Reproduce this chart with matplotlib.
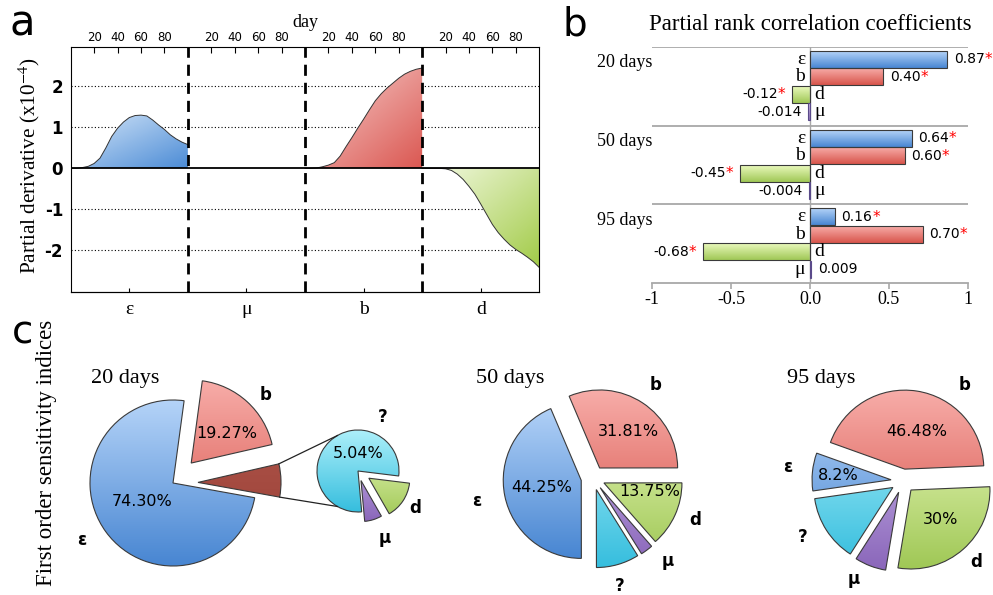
"""
Sensitivity analysis figure: partial derivatives, PRCC and first order indices
"""

import numpy as np
import matplotlib
matplotlib.use('agg')

import matplotlib.pyplot as plt
from matplotlib.colors import LinearSegmentedColormap

plt.rcParams['mathtext.fontset'] = 'stix'
SERIF = ['Liberation Serif', 'DejaVu Serif']
SANS = ['DejaVu Sans']

# ------------- data: panel a (partial derivative, x1e-4) -------------
days = [0, 5, 10, 15, 20, 25, 30, 35, 40, 45, 50,
        55, 60, 65, 70, 75, 80, 85, 90, 95, 100]
deriv_eps = [0, 0, 0.02, 0.05, 0.12, 0.25, 0.5, 0.78, 0.98, 1.13, 1.24,
             1.29, 1.3, 1.28, 1.18, 1.06, 0.95, 0.82, 0.72, 0.64, 0.58]
deriv_mu = [0] * 21
deriv_b = [0, 0, 0.01, 0.04, 0.08, 0.14, 0.3, 0.53, 0.75, 0.98, 1.2,
           1.43, 1.65, 1.82, 1.96, 2.08, 2.2, 2.3, 2.37, 2.42, 2.45]
deriv_d = [0, 0, 0, 0, -0.01, -0.05, -0.14, -0.27, -0.44, -0.63, -0.87,
           -1.12, -1.37, -1.57, -1.73, -1.87, -1.98, -2.07, -2.17, -2.28, -2.42]
params_a = ['ε', 'μ', 'b', 'd']

# ------------- data: panel b (PRCC) -------------
prcc_times = ['20 days', '50 days', '95 days']
prcc_params = ['ε', 'b', 'd', 'μ']
prcc_20 = [0.87, 0.465, -0.114, -0.014]
prcc_50 = [0.645, 0.60, -0.443, -0.004]
prcc_95 = [0.16, 0.715, -0.677, 0.009]
prcc_text_20 = ['0.87', '0.40', '-0.12', '-0.014']
prcc_text_50 = ['0.64', '0.60', '-0.45', '-0.004']
prcc_text_95 = ['0.16', '0.70', '-0.68', '0.009']
prcc_signif = [True, True, True, False]

# ------------- data: panel c (first order indices, %) -------------
si20_labels = ['ε', 'rest', 'b']
si20_values = [74.30, 6.43, 19.27]
si20_small_labels = ['?', 'μ', 'd']
si20_small_values = [5.04, 0.44, 0.95]
si50_labels = ['ε', '?', 'μ', 'd', 'b']
si50_values = [44.25, 9.0, 2.6, 13.75, 31.81]
si95_labels = ['b', 'ε', '?', 'μ', 'd']
si95_values = [46.48, 8.2, 14.5, 6.8, 30.0]

# gradient colours (top/light, bottom/dark)
pie_colors = {
    'ε': ('#b4d3f8', '#4886d2'),
    'b': ('#f7aca8', '#d8554c'),
    'd': ('#eaf9bd', '#a0c856'),
    'μ': ('#cdbaec', '#8a66ba'),
    '?': ('#aceffa', '#36bede'),
    'rest': ('#b0564c', '#9a4036'),
}
area_colors = {
    'ε': ('#d6e7f9', '#4c8cd6'),
    'b': ('#f7d3d1', '#db5852'),
    'd': ('#f3f9e2', '#a2cb48'),
}


def gradient(ax, clip, extent, c1, c2, diagonal=False):
    cmap = LinearSegmentedColormap.from_list('g', [c1, c2])
    yy, xx = np.mgrid[0:1:64j, 0:1:64j]
    g = (xx + yy) / 2 if diagonal else yy
    im = ax.imshow(g, cmap=cmap, extent=extent, aspect='auto', origin='upper',
                   zorder=1, interpolation='bilinear', vmin=0, vmax=1)
    if isinstance(clip, tuple):
        im.set_clip_path(*clip)
    else:
        im.set_clip_path(clip)
    return im


fig = plt.figure(figsize=(9.93, 5.95), dpi=100)

# ----------- panel a -----------------------
ax_a = fig.add_axes([70.7 / 993, 1 - 291.7 / 595, 468.6 / 993, 245 / 595])
x = np.array(days)
for k, (name, vals) in enumerate(zip(params_a, [deriv_eps, deriv_mu, deriv_b, deriv_d])):
    xs = x + 100 * k
    v = np.array(vals, dtype=float)
    if name in area_colors:
        poly = ax_a.fill_between(xs, 0, v, facecolor='none', edgecolor='none')
        lo, hi = min(v.min(), 0), max(v.max(), 0)
        gradient(ax_a, (poly.get_paths()[0], ax_a.transData),
                 (xs[0], xs[-1], lo, hi), *area_colors[name], diagonal=True)
        ax_a.plot(xs, v, color='#333333', lw=0.7, zorder=3)

for yv in (-2, -1, 1, 2):
    ax_a.axhline(yv, color='k', ls=(0, (1, 2)), lw=0.8, zorder=0.5)
ax_a.axhline(0, color='k', lw=1.3, zorder=4)
for xv in (100, 200, 300):
    ax_a.axvline(xv, color='k', ls=(0, (4, 2.5)), lw=2, zorder=5)

ax_a.set_xlim(0, 400)
ax_a.set_ylim(-3.01, 2.97)
ax_a.set_xticks([100 * k + d for k in range(4) for d in (20, 40, 60, 80)],
                ['20', '40', '60', '80'] * 4, fontfamily=SANS, fontsize=8.5)
ax_a.xaxis.tick_top()
ax_a.xaxis.set_label_position('top')
ax_a.set_xlabel('day', family=SERIF, fontsize=13, labelpad=3)
ax_a.tick_params(axis='x', direction='in', length=4, pad=2)
ax_a.set_yticks([-2, -1, 0, 1, 2], ['-2', '-1', '0', '1', '2'],
                fontweight='bold', fontsize=12)
ax_a.tick_params(axis='y', length=0, pad=5.5)

sec = ax_a.secondary_xaxis('bottom')
sec.set_xticks([50, 150, 250, 350], params_a, fontfamily=SERIF, fontsize=14)
sec.tick_params(direction='in', length=3, pad=7)

fig.text(29 / 993, 1 - 166 / 595, 'Partial derivative (x10$^{-4}$)', rotation=90,
         ha='center', va='center', family=SERIF, fontsize=15.3)

# ----------- panel b -----------------------
ax_b = fig.add_axes([652 / 993, 1 - 283 / 595, 316 / 993, 236 / 595])
series = [prcc_20, prcc_50, prcc_95]
texts = [prcc_text_20, prcc_text_50, prcc_text_95]
for g in range(3):
    for i, p in enumerate(prcc_params):
        yc = 4 * g + 0.63 + 0.89 * i
        v = series[g][i]
        ec = '#5a4a8a' if p == 'μ' else '#3a3a3a'
        rect = ax_b.barh(yc, v, height=0.86, color='none', edgecolor=ec,
                         lw=0.8, zorder=2)[0]
        gradient(ax_b, rect, (min(0, v), max(0, v), yc + 0.43, yc - 0.43),
                 *pie_colors[p])
        if v >= 0:
            ax_b.text(-0.03, yc, p, ha='right', va='center', family=SERIF, fontsize=14)
            t = ax_b.text(v + 0.04, yc, texts[g][i], ha='left', va='center', fontsize=10)
        else:
            ax_b.text(0.03, yc, p, ha='left', va='center', family=SERIF, fontsize=14)
            off = 0.09 if prcc_signif[i] else 0.04
            t = ax_b.text(v - off, yc, texts[g][i], ha='right', va='center', fontsize=10)
        if prcc_signif[i]:
            ax_b.annotate('*', xy=(1, 1), xycoords=t, ha='left', va='top',
                          color='red', fontsize=11)
    ax_b.text(-1.35, 4 * g + 0.8, prcc_times[g], ha='left', va='center',
              family=SERIF, fontsize=13, clip_on=False)

for yv in (0, 4, 8):
    ax_b.axhline(yv, color='#a8a8a8', lw=1.3, zorder=1.5)
ax_b.axvline(0, color='#a8a8a8', lw=1, zorder=1.5)
ax_b.set_xlim(-1, 1)
ax_b.set_ylim(12, 0)
for s in ('top', 'left', 'right'):
    ax_b.spines[s].set_visible(False)
ax_b.spines['bottom'].set_color('#a8a8a8')
ax_b.spines['bottom'].set_linewidth(1.3)
ax_b.set_xticks([-1, -0.5, 0, 0.5, 1], ['-1', '-0.5', '0.0', '0.5', '1'],
                fontfamily=SERIF, fontsize=13)
ax_b.tick_params(axis='x', length=4, color='#a8a8a8', width=1.2, pad=2)
ax_b.set_yticks([])
fig.text(810 / 993, 1 - 25 / 595, 'Partial rank correlation coefficients',
         ha='center', va='center', family=SERIF, fontsize=16.5)

# ----------- panel c -----------------------
ax_c = fig.add_axes([0, 0, 1, 1])
ax_c.patch.set_visible(False)
H = 595
wp = dict(edgecolor='#3a3a3a', linewidth=0.8)


def draw_pie(values, labels, center, r, start, explode):
    wedges, _ = ax_c.pie(values, center=center, radius=r, startangle=start,
                         explode=explode, wedgeprops=wp, colors=['none'] * len(values))
    for w, lab in zip(wedges, labels):
        cx, cy = w.center
        gradient(ax_c, w, (cx - r, cx + r, cy - r, cy + r), *pie_colors[lab])
        w.set_facecolor('none')
        w.set_zorder(2)
    return wedges


w20 = draw_pie(si20_values, si20_labels, (173, H - 483), 83, 82.3, [0, 25, 27])
w20s = draw_pie(si20_small_values, si20_small_labels, (358, H - 471), 41, -7, [0, 10, 13])
draw_pie(si50_values, si50_labels, (593, H - 478), 78, 113, [12] * 5)
draw_pie(si95_values, si95_labels, (903, H - 481), 79, 2.4, [12] * 5)

# connector lines from the grouped slice to the small pie
rest, qm = w20[1], w20s[0]
for th_r, th_q in ((rest.theta2, 120), (rest.theta1, 240)):
    p0 = (rest.center[0] + rest.r * np.cos(np.radians(th_r)),
          rest.center[1] + rest.r * np.sin(np.radians(th_r)))
    p1 = (qm.center[0] + qm.r * np.cos(np.radians(th_q)),
          qm.center[1] + qm.r * np.sin(np.radians(th_q)))
    ax_c.plot([p0[0], p1[0]], [p0[1], p1[1]], color='#222222', lw=0.9, zorder=3)

pie_titles = [('20 days', 125, 378), ('50 days', 510, 378), ('95 days', 821, 378)]
for s, px, py in pie_titles:
    ax_c.text(px, H - py, s, ha='center', va='center', family=SERIF, fontsize=16)

name_labels = [('b', 266, 395), ('ε', 82, 540), ('?', 383, 417), ('d', 415, 508),
               ('μ', 385, 538),
               ('b', 656, 385), ('ε', 477, 501), ('d', 695, 520), ('μ', 668, 561),
               ('?', 620, 586),
               ('b', 965, 385), ('ε', 788, 467), ('?', 803, 537), ('μ', 854, 579),
               ('d', 976, 562)]
for s, px, py in name_labels:
    ax_c.text(px, H - py, s, ha='center', va='center', fontsize=12,
              fontweight='bold', zorder=4)

pct_labels = [('19.27%', 227, 433), ('74.30%', 142, 502), ('5.04%', 358, 454),
              ('31.81%', 628, 431), ('44.25%', 542, 487), ('13.75%', 650, 492),
              ('46.48%', 917, 432), ('8.2%', 838, 475), ('30%', 940, 520)]
for s, px, py in pct_labels:
    ax_c.text(px, H - py, s, ha='center', va='center', fontsize=11.5, zorder=4)

ax_c.set_xlim(0, 993)
ax_c.set_ylim(0, 595)
ax_c.set_aspect('auto')
ax_c.axis('off')

fig.text(47 / 993, 1 - 453 / 595, 'First order sensitivity indices', rotation=90,
         ha='center', va='center', family=SERIF, fontsize=16.5)

# panel letters
fig.text(22.5 / 993, 1 - 24 / 595, 'a', ha='center', va='center', fontsize=30)
fig.text(575 / 993, 1 - 25 / 595, 'b', ha='center', va='center', fontsize=28)
fig.text(23 / 993, 1 - 332 / 595, 'c', ha='center', va='center', fontsize=28)

plt.savefig('out.png', dpi=100)
